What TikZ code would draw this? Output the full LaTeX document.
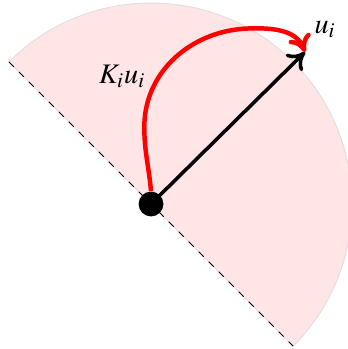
\documentclass[tikz,border=0pt]{standalone}
\usepackage{mathptmx}
\usetikzlibrary{arrows.meta}
\begin{document}
\begin{tikzpicture}[font=\large]
        \useasboundingbox (-2.254,-2.164) rectangle (2.94,3.045);
        % Semidisco
        \fill[red!10, draw=gray!25] (135:3) arc (135:-45:3) -- cycle;
        \draw[dashed, thin] (135:3) -- (-45:3);
        
        % Punto e vettore
        \node[circle, fill=black, inner sep=0pt, minimum size=0.37cm] (o) at (0,0) {};
        \coordinate (tip) at (2.3,2.27);
        \draw[line width=1.5pt, -{To[length=2.5mm, width=3.5mm]}] (o.center) -- (tip);
        
        % Curva rossa
        \draw[red, line width=1.9pt, -{To[length=2.5mm, width=3.5mm]}] (o.north) to[out=95, in=-90] (-0.1,1.15)
            to[out=90, in=182] (1.45,2.62) to[out=2, in=112] (tip);
        
        % Etichette
        \node (Ku) at (-0.43,1.9) {$K_i u_i$};
        \node (u) at (2.6,2.6) {$u_i$};
    \end{tikzpicture}
\end{document}
